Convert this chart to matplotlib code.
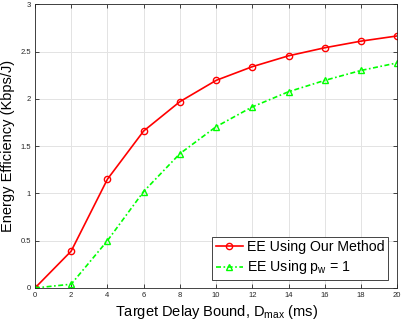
import matplotlib.pyplot as plt

plt.rcParams["font.family"] = ["Liberation Sans", "DejaVu Sans"]

delay = [0, 2, 4, 6, 8, 10, 12, 14, 16, 18, 20]
ee_our = [0.0, 0.39, 1.15, 1.66, 1.97, 2.195, 2.34, 2.455, 2.54, 2.61, 2.665]
ee_pw1 = [0.0, 0.04, 0.50, 1.02, 1.42, 1.705, 1.915, 2.075, 2.195, 2.30, 2.38]
xticks = [0, 2, 4, 6, 8, 10, 12, 14, 16, 18, 20]
yticks = [0, 0.5, 1, 1.5, 2, 2.5, 3]
ytick_labels = ["0", "0.5", "1", "1.5", "2", "2.5", "3"]

fig = plt.figure(figsize=(4.02, 3.28), dpi=100)
ax = fig.add_axes([0.087, 0.122, 0.901, 0.865])

ax.plot(delay, ee_our, "-o", color="red", lw=1.2, ms=4.5, mfc="none",
        mew=1.0, label="EE Using Our Method")
ax.plot(delay, ee_pw1, "-^", color=(0, 1, 0), lw=1.2, ms=4.5, mfc="none",
        mew=1.0, dashes=[3, 1.5, 1, 1.5],
        label="EE Using $\\mathregular{p_w}$ = 1")

ax.set_xlim(0, 20)
ax.set_ylim(0, 3)
ax.set_xticks(xticks)
ax.set_yticks(yticks)
ax.set_yticklabels(ytick_labels)
ax.grid(True, color="#e3e3e3", lw=0.7)
ax.set_axisbelow(True)
ax.tick_params(direction="in", top=True, right=True, labelsize=5.5,
               colors="#262626", length=3, width=0.6, pad=3)
for s in ax.spines.values():
    s.set_color("#262626")
    s.set_linewidth(0.6)

ax.set_xlabel("Target Delay Bound, $\\mathregular{D_{max}}$ (ms)", fontsize=10.5,
              labelpad=3)
ax.set_ylabel("Energy Efficiency (Kbps/J)", fontsize=10.5, labelpad=4)

leg = ax.legend(loc="lower right", fontsize=10.2, fancybox=False, framealpha=1,
                edgecolor="#262626", handlelength=1.9, borderpad=0.25,
                labelspacing=0.3, handletextpad=0.3, borderaxespad=0,
                bbox_to_anchor=(0.975, 0.028))
leg.get_frame().set_linewidth(0.6)

fig.savefig("out.png", dpi=100)
